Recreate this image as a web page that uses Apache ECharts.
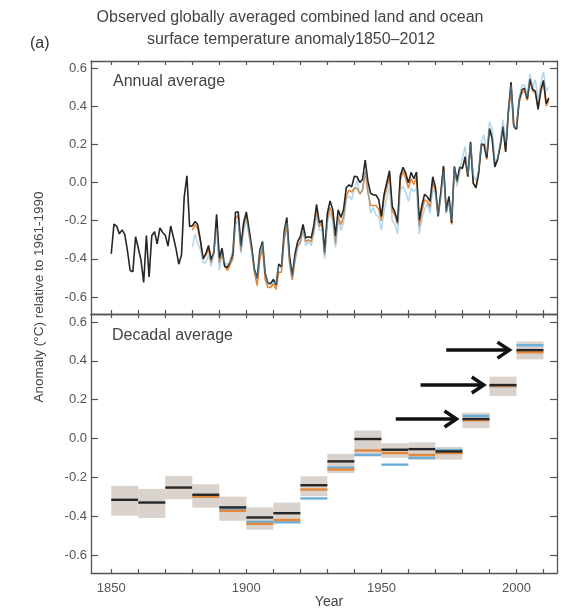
<!DOCTYPE html>
<html>
<head>
<meta charset="utf-8">
<script src="https://cdn.jsdelivr.net/npm/echarts@6/dist/echarts.min.js"></script>
<style>
html,body{margin:0;padding:0;background:#fff;}
#c{width:561px;height:609px;}
</style>
</head>
<body>
<div id="c"></div>
<script>
// ---- Annual data ----
const hadYears0 = 1850;
const hadcrut = [
-0.373,-0.218,-0.228,-0.269,-0.248,-0.272,-0.358,-0.461,-0.467,-0.284,
-0.343,-0.407,-0.524,-0.278,-0.495,-0.279,-0.257,-0.321,-0.238,-0.262,
-0.276,-0.333,-0.228,-0.286,-0.349,-0.428,-0.379,-0.076,0.035,-0.230,
-0.227,-0.204,-0.220,-0.302,-0.400,-0.373,-0.330,-0.404,-0.367,-0.167,
-0.397,-0.344,-0.439,-0.445,-0.415,-0.374,-0.156,-0.153,-0.336,-0.210,
-0.154,-0.243,-0.338,-0.454,-0.502,-0.355,-0.309,-0.478,-0.527,-0.529,
-0.508,-0.537,-0.427,-0.443,-0.258,-0.183,-0.388,-0.488,-0.376,-0.310,
-0.282,-0.220,-0.290,-0.284,-0.290,-0.223,-0.114,-0.212,-0.197,-0.366,
-0.160,-0.097,-0.142,-0.280,-0.143,-0.183,-0.141,-0.027,-0.012,-0.022,
0.033,0.030,0.001,0.016,0.117,0.006,-0.056,-0.065,-0.066,-0.089,
-0.177,-0.061,0.000,0.062,-0.125,-0.155,-0.208,0.036,0.080,0.049,
-0.002,0.053,0.020,0.055,-0.198,-0.119,-0.061,-0.076,-0.099,0.030,
-0.026,-0.175,-0.051,0.087,-0.150,-0.072,-0.212,0.084,0.008,0.081,
0.074,0.136,0.032,0.213,-0.004,-0.027,0.051,0.202,0.199,0.129,
0.283,0.233,0.082,0.121,0.193,0.295,0.161,0.375,0.526,0.297,
0.280,0.434,0.485,0.495,0.440,0.543,0.489,0.478,0.383,0.488,
0.535,0.414,0.444
];
const otherYears0 = 1880;
const noaa = [
-0.25,-0.22,-0.24,-0.31,-0.40,-0.38,-0.35,-0.42,-0.36,-0.19,
-0.42,-0.37,-0.44,-0.46,-0.43,-0.40,-0.19,-0.17,-0.36,-0.23,
-0.17,-0.27,-0.36,-0.47,-0.54,-0.40,-0.34,-0.51,-0.55,-0.55,
-0.53,-0.56,-0.47,-0.47,-0.30,-0.22,-0.42,-0.51,-0.41,-0.33,
-0.31,-0.24,-0.31,-0.30,-0.31,-0.25,-0.14,-0.23,-0.21,-0.38,
-0.19,-0.13,-0.18,-0.32,-0.18,-0.22,-0.18,-0.07,-0.04,-0.05,
-0.03,-0.03,-0.06,-0.04,0.06,-0.05,-0.12,-0.12,-0.12,-0.14,
-0.20,-0.08,-0.03,0.04,-0.15,-0.17,-0.22,0.01,0.06,0.02,
-0.03,0.02,-0.01,0.03,-0.23,-0.15,-0.09,-0.10,-0.13,0.00,
-0.04,-0.18,-0.06,0.08,-0.16,-0.08,-0.22,0.08,0.00,0.07,
0.08,0.12,0.03,0.20,0.00,-0.03,0.05,0.19,0.20,0.12,
0.28,0.23,0.09,0.12,0.19,0.29,0.17,0.36,0.50,0.29,
0.28,0.42,0.47,0.48,0.43,0.53,0.48,0.47,0.39,0.47,
0.53,0.40,0.43
];
const giss = [
-0.34,-0.27,-0.32,-0.35,-0.42,-0.42,-0.38,-0.44,-0.36,-0.24,
-0.46,-0.38,-0.42,-0.43,-0.42,-0.35,-0.22,-0.20,-0.37,-0.26,
-0.19,-0.27,-0.36,-0.46,-0.51,-0.37,-0.32,-0.48,-0.53,-0.54,
-0.52,-0.53,-0.44,-0.45,-0.28,-0.21,-0.42,-0.50,-0.40,-0.34,
-0.32,-0.25,-0.33,-0.31,-0.33,-0.27,-0.17,-0.25,-0.25,-0.40,
-0.21,-0.16,-0.21,-0.34,-0.19,-0.25,-0.21,-0.09,-0.07,-0.09,
-0.03,0.01,-0.06,-0.04,0.07,-0.04,-0.16,-0.13,-0.17,-0.18,
-0.25,-0.15,-0.08,-0.02,-0.20,-0.22,-0.27,-0.04,-0.02,-0.05,
-0.10,-0.03,-0.05,-0.03,-0.27,-0.19,-0.14,-0.11,-0.16,-0.03,
-0.06,-0.17,-0.08,0.06,-0.16,-0.10,-0.20,0.08,-0.02,0.06,
0.13,0.19,0.04,0.20,0.04,0.01,0.07,0.21,0.25,0.15,
0.32,0.28,0.11,0.13,0.21,0.33,0.21,0.37,0.51,0.29,
0.29,0.44,0.51,0.51,0.45,0.57,0.50,0.54,0.43,0.52,
0.58,0.48,0.50
];

// ---- Decadal data ----
const decadeStart = [1850,1860,1870,1880,1890,1900,1910,1920,1930,1940,1950,1960,1970,1980,1990,2000];
const decHigh = [-0.244,-0.26,-0.193,-0.236,-0.30,-0.355,-0.33,-0.195,-0.079,0.041,-0.024,-0.02,-0.044,0.133,0.318,0.50];
const decLow  = [-0.398,-0.41,-0.313,-0.356,-0.424,-0.47,-0.43,-0.297,-0.178,-0.092,-0.10,-0.11,-0.109,0.053,0.219,0.407];
const decHad  = [-0.316,-0.33,-0.253,-0.29,-0.355,-0.407,-0.385,-0.241,-0.118,-0.003,-0.058,-0.055,-0.067,0.10,0.275,0.455];
const decNoaa = [null,null,null,-0.30,-0.373,-0.44,-0.42,-0.263,-0.16,-0.062,-0.075,-0.085,-0.075,0.094,0.27,0.444];
const decGiss = [null,null,null,-0.30,-0.365,-0.43,-0.432,-0.309,-0.15,-0.085,-0.135,-0.10,-0.06,0.116,0.27,0.48];
const decadeLen = 10;

// ---- Arrows (data coordinates) ----
const arrowFrom = [1955.3,1964.5,1974.0];
const arrowTo   = [1977.8,1987.9,1997.4];
const arrowY    = [0.10,0.275,0.455];

// ---- Tick labels ----
const yTicks = [-0.6,-0.4,-0.2,0.0,0.2,0.4,0.6];
const xTicks = [1850,1860,1870,1880,1890,1900,1910,1920,1930,1940,1950,1960,1970,1980,1990,2000,2010];
const xLabels = [1850,1900,1950,2000];

const C_BLACK = '#262626', C_ORANGE = '#e4883a', C_BLUE = '#6aaed6', C_BOX = '#d6cdc8';
const AX = '#555';
const FONT = 'Liberation Sans, Arial, sans-serif';

function pairs(y0, arr){ return arr.map((v,i)=>[y0+i, v]); }

function xAxisDef(grid, pos, labels){
  return {
    type:'value', gridIndex:grid, position:pos, min:1842.5, max:2015,
    axisLine:{show:true, onZero:false, lineStyle:{color:AX, width:1.3}},
    axisTick:{show:true, inside:true, length:4, customValues:xTicks, lineStyle:{color:AX, width:1.2}},
    axisLabel:{show:labels, customValues:xLabels, margin:9, color:'#555', fontSize:13, fontFamily:FONT, formatter: v=>String(v)},
    splitLine:{show:false}
  };
}
function yAxisDef(grid, pos, labels, mn, mx){
  return {
    type:'value', gridIndex:grid, position:pos, min:mn, max:mx,
    axisLine:{show:true, onZero:false, lineStyle:{color:AX, width:1.3}},
    axisTick:{show:true, inside:true, length:7, customValues:yTicks, lineStyle:{color:AX, width:1.2}},
    axisLabel:{show:labels, customValues:yTicks, margin:4, color:'#555', fontSize:13, fontFamily:FONT, formatter: v=>v.toFixed(1)},
    splitLine:{show:false}
  };
}

const chart = echarts.init(document.getElementById('c'), null, {renderer:'canvas'});

const option = {
  animation:false,
  backgroundColor:'#fff',
  grid:[
    {left:91, right:4, top:61, height:253},
    {left:91, right:4, top:314, height:259}
  ],
  xAxis:[ xAxisDef(0,'bottom',false), xAxisDef(0,'top',false), xAxisDef(1,'bottom',true), xAxisDef(1,'top',false) ],
  yAxis:[ yAxisDef(0,'left',true,-0.689,0.637), yAxisDef(0,'right',false,-0.689,0.637),
          yAxisDef(1,'left',true,-0.693,0.641), yAxisDef(1,'right',false,-0.693,0.641) ],
  series:[
    {type:'line', xAxisIndex:0, yAxisIndex:0, data:pairs(otherYears0, noaa), showSymbol:false,
     lineStyle:{color:C_ORANGE, width:1.6}, z:2},
    {type:'line', xAxisIndex:0, yAxisIndex:0, data:pairs(hadYears0, hadcrut), showSymbol:false,
     lineStyle:{color:C_BLACK, width:1.6}, z:3},
    {type:'line', xAxisIndex:0, yAxisIndex:0, data:pairs(otherYears0, giss), showSymbol:false,
     lineStyle:{color:C_BLUE, width:1.5, opacity:0.5}, z:4},
    {type:'custom', xAxisIndex:2, yAxisIndex:2,
     data: decadeStart.map((s,i)=>[s, decLow[i], decHigh[i]]),
     renderItem:function(params, api){
       const i = params.dataIndex;
       const x0 = api.value(0), x1 = x0 + decadeLen;
       const pHi = api.coord([x0, api.value(2)]);
       const pLo = api.coord([x1, api.value(1)]);
       const children = [{
         type:'rect', shape:{x:pHi[0], y:pHi[1], width:pLo[0]-pHi[0], height:pLo[1]-pHi[1]},
         style:{fill:C_BOX, opacity:0.9}
       }];
       const addLine = (v, color)=>{
         if (v === null) return;
         const a = api.coord([x0, v]), b = api.coord([x1, v]);
         children.push({type:'line', shape:{x1:a[0], y1:a[1], x2:b[0], y2:b[1]}, style:{stroke:color, lineWidth:2.4}});
       };
       addLine(decGiss[i], C_BLUE);
       addLine(decNoaa[i], C_ORANGE);
       addLine(decHad[i], C_BLACK);
       return {type:'group', children};
     }, z:2},
    {type:'custom', xAxisIndex:2, yAxisIndex:2,
     data: arrowFrom.map((f,i)=>[f, arrowTo[i], arrowY[i]]),
     renderItem:function(params, api){
       const a = api.coord([api.value(0), api.value(2)]);
       const b = api.coord([api.value(1), api.value(2)]);
       return {type:'group', children:[
         {type:'line', shape:{x1:a[0], y1:a[1], x2:b[0]-2, y2:b[1]}, style:{stroke:'#111', lineWidth:3.5}},
         {type:'polyline', shape:{points:[[b[0]-12, b[1]-8],[b[0], b[1]],[b[0]-12, b[1]+8]]},
          style:{stroke:'#111', lineWidth:3.5, fill:null, lineJoin:'miter'}}
       ]};
     }, z:5}
  ],
  graphic:[
    {type:'text', x:290, y:18, style:{text:'Observed globally averaged combined land and ocean', font:'16px '+FONT, fill:'#444', align:'center', verticalAlign:'middle'}},
    {type:'text', x:291, y:40, style:{text:'surface temperature anomaly1850\u20132012', font:'16px '+FONT, fill:'#444', align:'center', verticalAlign:'middle'}},
    {type:'text', x:30, y:44, style:{text:'(a)', font:'16px '+FONT, fill:'#333', align:'left', verticalAlign:'middle'}},
    {type:'text', x:113, y:82, style:{text:'Annual average', font:'16px '+FONT, fill:'#444', align:'left', verticalAlign:'middle'}},
    {type:'text', x:112, y:336, style:{text:'Decadal average', font:'16px '+FONT, fill:'#444', align:'left', verticalAlign:'middle'}},
    {type:'text', x:329, y:602, style:{text:'Year', font:'14px '+FONT, fill:'#444', align:'center', verticalAlign:'middle'}},
    {type:'text', x:39, y:297, rotation:Math.PI/2, style:{text:'Anomaly (\u00B0C) relative to 1961-1990', font:'13.5px '+FONT, fill:'#444', align:'center', verticalAlign:'middle'}}
  ]
};
chart.setOption(option);
</script>
</body>
</html>
